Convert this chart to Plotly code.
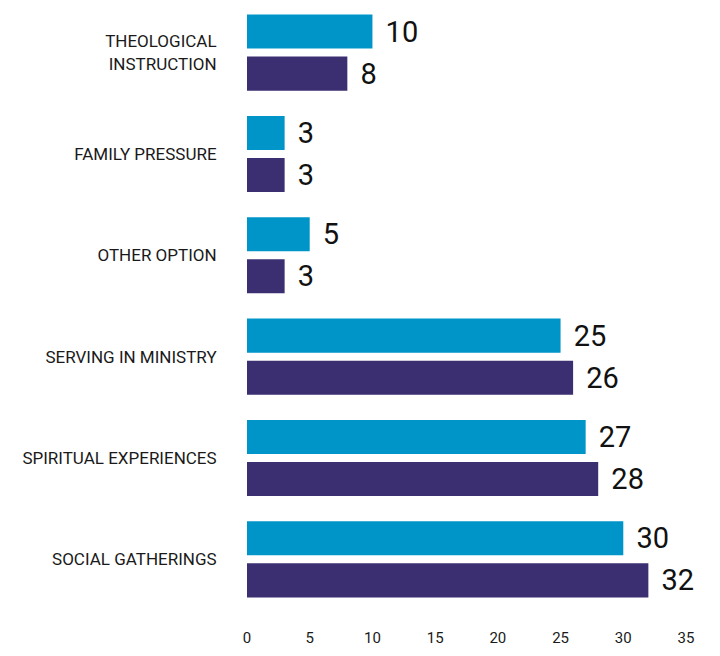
import plotly.graph_objects as go

categories = ["THEOLOGICAL<br>INSTRUCTION", "FAMILY PRESSURE", "OTHER OPTION",
              "SERVING IN MINISTRY", "SPIRITUAL EXPERIENCES", "SOCIAL GATHERINGS"]
series_a = [10, 3, 5, 25, 27, 30]
series_b = [8, 3, 3, 26, 28, 32]
x_ticks = [0, 5, 10, 15, 20, 25, 30, 35]

color_a = "#0095C9"
color_b = "#3B2F72"
font_family = "Roboto, 'DejaVu Sans', sans-serif"

fig = go.Figure()
for vals, col in [(series_a, color_a), (series_b, color_b)]:
    fig.add_trace(go.Bar(
        y=categories, x=vals, orientation="h",
        marker=dict(color=col, line=dict(width=0)),
        text=[" \u200a" + str(v) for v in vals],
        textposition="outside",
        textfont=dict(size=29, color="#111111", family=font_family),
        cliponaxis=False,
        hoverinfo="skip",
    ))

# page body has an 8px default margin, so the figure is sized to fit inside the window
fig.update_layout(
    width=712, height=648,
    margin=dict(l=239, r=34, t=0, b=46, autoexpand=False),
    barmode="group", bargap=0.17, bargroupgap=0.19,
    showlegend=False,
    plot_bgcolor="white", paper_bgcolor="white",
    font=dict(family=font_family, color="#1a1a1a"),
)
fig.update_xaxes(
    range=[0, 35], tickvals=x_ticks, ticktext=[str(t) for t in x_ticks],
    showgrid=False, zeroline=False, showline=False, automargin=False,
    ticks="outside", ticklen=14, tickcolor="rgba(0,0,0,0)",
    tickfont=dict(size=15, color="#1a1a1a"),
)
fig.update_yaxes(
    range=[5.5, -0.44], automargin=False,
    showgrid=False, zeroline=False, showline=False,
    ticks="outside", ticklen=26, tickcolor="rgba(0,0,0,0)",
    tickfont=dict(size=17, color="#1a1a1a"),
)

fig.write_html("out.html")
